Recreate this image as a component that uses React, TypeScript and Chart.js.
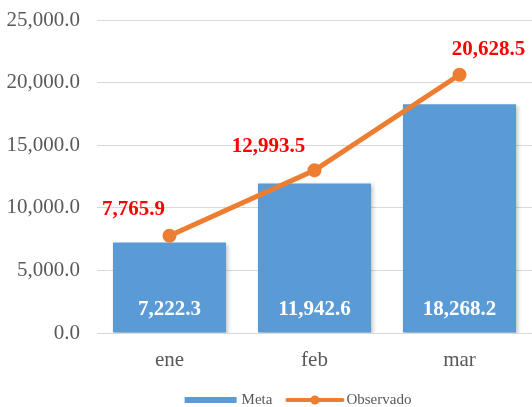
import React, { useEffect, useRef } from "react";
import { Chart, registerables } from "chart.js";

Chart.register(...registerables);

const categories = ["ene", "feb", "mar"];
const metaValues = [7222.3, 11942.6, 18268.2];
const observadoValues = [7765.9, 12993.5, 20628.5];
const yTicks = [0, 5000, 10000, 15000, 20000, 25000];

const BLUE = "#5B9BD5";
const ORANGE = "#ED7D31";
const GRAY_TEXT = "#595959";
const GRID = "#D9D9D9";
const SERIF = "'Liberation Serif', 'Times New Roman', serif";

const fmt = (v: number) =>
  v.toLocaleString("en-US", { minimumFractionDigits: 1, maximumFractionDigits: 1 });

// label offsets (px) relative to each line point, as placed in the reference
const redLabelOffsets = [
  [-36, -26],
  [-46, -24],
  [29, -25],
];

const shadowPlugin = {
  id: "barShadow",
  beforeDatasetDraw(chart: any, args: any) {
    if (args.meta.type !== "bar") return;
    const ctx = chart.ctx;
    ctx.save();
    ctx.shadowColor = "rgba(0,0,0,0.22)";
    ctx.shadowBlur = 4;
    ctx.shadowOffsetX = 2;
    ctx.shadowOffsetY = 2;
  },
  afterDatasetDraw(chart: any, args: any) {
    if (args.meta.type !== "bar") return;
    chart.ctx.restore();
  },
};

const labelsPlugin = {
  id: "valueLabels",
  afterDatasetsDraw(chart: any) {
    const ctx = chart.ctx;
    const yScale = chart.scales.y;
    const base = yScale.getPixelForValue(0);
    ctx.save();
    ctx.textAlign = "center";
    ctx.textBaseline = "middle";
    ctx.font = `bold 21px ${SERIF}`;
    const barMeta = chart.getDatasetMeta(1);
    ctx.fillStyle = "#FFFFFF";
    barMeta.data.forEach((el: any, i: number) => {
      ctx.fillText(fmt(metaValues[i]), el.x, base - 23);
    });
    const lineMeta = chart.getDatasetMeta(0);
    ctx.fillStyle = "#FF0000";
    lineMeta.data.forEach((el: any, i: number) => {
      const [dx, dy] = redLabelOffsets[i];
      ctx.fillText(fmt(observadoValues[i]), el.x + dx, el.y + dy);
    });
    ctx.restore();
  },
};

const legendPlugin = {
  id: "customLegend",
  afterDraw(chart: any) {
    const ctx = chart.ctx;
    ctx.save();
    ctx.font = `15px ${SERIF}`;
    ctx.textBaseline = "middle";
    ctx.textAlign = "left";
    const y = chart.height - 7;
    const t1 = "Meta";
    const t2 = "Observado";
    const w1 = ctx.measureText(t1).width;
    const w2 = ctx.measureText(t2).width;
    const total = 52 + 5 + w1 + 13 + 59 + 2 + w2;
    let x = chart.width / 2 + 32 - total / 2;
    ctx.fillStyle = BLUE;
    ctx.fillRect(x, y - 3, 52, 6);
    x += 57;
    ctx.fillStyle = GRAY_TEXT;
    ctx.fillText(t1, x, y);
    x += w1 + 13;
    ctx.strokeStyle = ORANGE;
    ctx.lineWidth = 4;
    ctx.lineCap = "round";
    ctx.beginPath();
    ctx.moveTo(x + 2, y);
    ctx.lineTo(x + 57, y);
    ctx.stroke();
    ctx.fillStyle = ORANGE;
    ctx.beginPath();
    ctx.arc(x + 29.5, y, 4.5, 0, Math.PI * 2);
    ctx.fill();
    x += 61;
    ctx.fillStyle = GRAY_TEXT;
    ctx.fillText(t2, x, y);
    ctx.restore();
  },
};

export default function App() {
  const ref = useRef<HTMLCanvasElement | null>(null);

  useEffect(() => {
    document.body.style.margin = "0";
    if (!ref.current) return;
    const chart = new Chart(ref.current, {
      type: "bar",
      data: {
        labels: categories,
        datasets: [
          {
            type: "line",
            label: "Observado",
            data: observadoValues,
            borderColor: ORANGE,
            backgroundColor: ORANGE,
            borderWidth: 5,
            pointRadius: 6,
            pointBorderWidth: 2,
            pointBackgroundColor: ORANGE,
            pointBorderColor: ORANGE,
            tension: 0,
            clip: false,
            order: 0,
          } as any,
          {
            type: "bar",
            label: "Meta",
            data: metaValues,
            backgroundColor: BLUE,
            borderWidth: 0,
            categoryPercentage: 1,
            barPercentage: 0.78,
            order: 1,
          },
        ],
      },
      options: {
        animation: false,
        responsive: false,
        layout: { autoPadding: false, padding: { top: 20, bottom: 34, left: 0, right: -2 } },
        plugins: {
          legend: { display: false },
          title: { display: false },
          tooltip: { enabled: false },
        },
        scales: {
          x: {
            grid: { display: false, drawTicks: false },
            border: { display: true, color: GRID, width: 1 },
            ticks: {
              color: GRAY_TEXT,
              font: { family: SERIF, size: 21 },
              padding: 15,
            },
            afterFit(scale: any) {
              scale.height = 40;
              scale.paddingLeft = 0;
              scale.paddingRight = 0;
            },
          },
          y: {
            min: 0,
            max: 25000,
            afterBuildTicks(scale: any) {
              scale.ticks = yTicks.map((v) => ({ value: v }));
            },
            grid: { color: GRID, lineWidth: 1, drawTicks: false },
            border: { display: false },
            ticks: {
              color: GRAY_TEXT,
              font: { family: SERIF, size: 21 },
              padding: 17,
              callback: (v: any) => fmt(Number(v)),
            },
            afterFit(scale: any) {
              scale.width = 97;
              scale.paddingTop = 0;
              scale.paddingBottom = 0;
            },
          },
        },
      },
      plugins: [shadowPlugin, labelsPlugin, legendPlugin],
    });
    return () => chart.destroy();
  }, []);

  return (
    <div style={{ width: 532, height: 407 }}>
      <canvas ref={ref} width={532} height={407} />
    </div>
  );
}
